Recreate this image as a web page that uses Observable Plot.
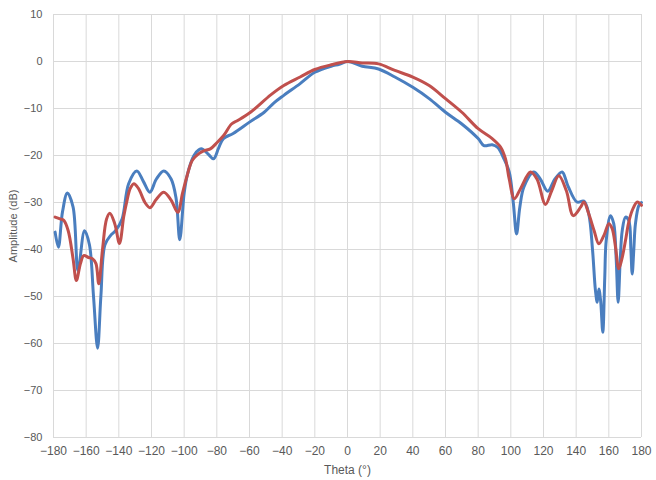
<!DOCTYPE html>
<html>
<head>
<meta charset="utf-8">
<script src="https://cdn.jsdelivr.net/npm/d3@7"></script>
<script src="https://cdn.jsdelivr.net/npm/@observablehq/plot@0.6"></script>
<style>
  html, body { margin: 0; padding: 0; background: #fff; }
  #chart svg { display: block; }
</style>
</head>
<body>
<div id="chart"></div>
<script>
const xTicks = [-180,-160,-140,-120,-100,-80,-60,-40,-20,0,20,40,60,80,100,120,140,160,180];
const yTicks = [-80,-70,-60,-50,-40,-30,-20,-10,0,10];

const blueTheta = [-179,-177,-174.5,-171.5,-168,-165,-161,-158,-155.5,-153,-151,-148.5,-145,-142,-138,-134,-129,-125,-121,-117,-112.5,-108,-105,-102.7,-100,-98,-94,-91,-89,-85,-82,-79,-76,-70,-60,-51,-45,-39,-29,-20,-10,-5,0,9,19,29,40,50,60,70,80,83.5,88.6,92,95.5,99,101.5,103.5,105.5,108,114,118,122.6,127,131.4,135,140.5,144.7,147.7,150,151.8,152.9,153.9,155,156.3,157.5,158.4,161,163,164.5,165.7,167,168.2,170.2,172.2,173.5,174.3,175.3,176.3,178.4,180];
const blueDb = [-36.3,-39.5,-32,-28,-31,-44.5,-36,-39,-50,-61,-50,-39,-37,-36,-33.5,-26,-23.3,-25.5,-27.8,-25,-23.3,-25,-29,-37.9,-28,-24,-20,-18.8,-18.6,-19.8,-20.7,-18.5,-16.4,-15.3,-12.9,-10.8,-8.8,-7.2,-4.7,-2.3,-1,-0.6,0,-1,-1.6,-3.3,-5.5,-7.9,-10.8,-13.3,-16.4,-17.9,-17.7,-18.3,-20.5,-23.5,-30,-36.7,-31,-26.7,-23.5,-25,-27.6,-25,-23.5,-26.5,-29.9,-29.7,-32.4,-40,-48.7,-51.2,-48.4,-51,-57.6,-46,-38.1,-32.8,-34.5,-42,-51.2,-42,-36,-33.1,-33.8,-40,-45.2,-40,-34.5,-30.6,-30];

const redTheta = [-179,-176,-173.7,-171,-168,-166,-163.5,-161.5,-158.5,-156,-154,-152.3,-150,-147.5,-145.5,-142.5,-139.6,-137,-135,-133,-130.8,-128,-124,-121,-117,-112.5,-108,-103.9,-101,-98.2,-95,-91,-88,-84,-80,-75.7,-71,-67.5,-59.4,-47,-39,-29,-20,-10,0,9,19,29,40,50,60,70,80,88.6,93.7,96.7,99,102.2,106,112,116,121.2,125,129.4,134,138.2,142.7,144.7,147.7,151,153.9,157,160,162,164.1,166.1,168,170.2,172,174.3,177.4,180];
const redDb = [-33.1,-33.5,-33.8,-36,-42,-46.6,-43,-41.3,-41.7,-42,-43,-47.3,-40,-33.5,-32.3,-34.5,-38.7,-33,-29.6,-27,-26,-27,-30,-31.1,-29.3,-27.8,-29.5,-32.1,-28,-24.3,-21,-19.6,-19,-18.6,-17.3,-15.7,-13.3,-12.6,-10.8,-7.1,-5.1,-3.3,-1.7,-0.7,0,-0.3,-0.5,-1.9,-3.3,-5.1,-7.9,-10.8,-14.3,-16.4,-18.2,-20.7,-25,-29.2,-27,-23.5,-25,-30.4,-27.5,-24.3,-27.5,-32.8,-31,-29.9,-32.4,-36,-38.8,-37,-34.5,-35.5,-39.5,-44.1,-42,-38.1,-34.5,-31.7,-29.9,-30.6];

const blue = blueTheta.map((t, i) => ({theta: t, db: blueDb[i]}));
const red = redTheta.map((t, i) => ({theta: t, db: redDb[i]}));

const font = "'Liberation Sans', Arial, sans-serif";
const chart = Plot.plot({
  width: 656,
  height: 480,
  marginTop: 14,
  marginBottom: 43,
  marginLeft: 53,
  marginRight: 15,
  style: {fontFamily: font, fontSize: "12px", color: "#595959", background: "#fff"},
  x: {domain: [-180, 180]},
  y: {domain: [-80, 10]},
  marks: [
    Plot.gridX(xTicks, {stroke: "#d9d9d9", strokeOpacity: 1, strokeWidth: 1}),
    Plot.gridY(yTicks, {stroke: "#d9d9d9", strokeOpacity: 1, strokeWidth: 1}),
    Plot.axisX(xTicks, {tickSize: 0, tickPadding: 9, label: "Theta (°)", labelAnchor: "center", labelArrow: "none", labelOffset: 36, fill: "#595959"}),
    Plot.axisY(yTicks, {tickSize: 0, tickPadding: 11, label: "Amplitude (dB)", labelAnchor: "center", labelArrow: "none", labelOffset: 44, fill: "#595959", fontSize: 11}),
    Plot.line(blue, {x: "theta", y: "db", stroke: "#4a7ebf", strokeWidth: 3, curve: "catmull-rom"}),
    Plot.line(red, {x: "theta", y: "db", stroke: "#c0504d", strokeWidth: 3, curve: "catmull-rom"})
  ]
});
document.getElementById("chart").appendChild(chart);
</script>
</body>
</html>
